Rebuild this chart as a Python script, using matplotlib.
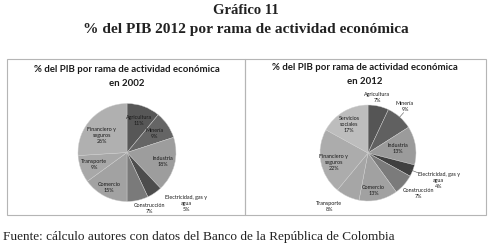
import matplotlib
matplotlib.use('Agg')
import matplotlib.pyplot as plt   # graficas
import numpy as np
from matplotlib.patches import Rectangle

# Datos 2002
sect_2002 = ['Agricultura', 'Minería', 'Industria', 'Electricidad, gas y\nagua',
             'Construcción', 'Comercio', 'Transporte', 'Financiero y\nseguros']
pib_2002 = [11, 9, 18, 5, 7, 15, 9, 26]

# Datos 2012
sect_2012 = ['Agricultura', 'Minería', 'Industria', 'Electricidad, gas y\nagua',
             'Construcción', 'Comercio', 'Transporte', 'Financiero y\nseguros',
             'Servicios\nsociales']
pib_2012 = [7, 9, 13, 4, 7, 13, 8, 22, 17]

W, H = 492, 244
fig = plt.figure(figsize=(W / 100, H / 100), dpi=100)
fig.patch.set_facecolor('white')

def px(x, y):   # pixeles -> fraccion de figura
    return x / W, 1 - y / H

def pie_axes(cx, cy, r):
    ax = fig.add_axes([(cx - r) / W, 1 - (cy + r) / H, 2 * r / W, 2 * r / H])
    return ax

def dibuja_pie(ax, vals, labels, colores, dist, nudge, fs=3.9):
    wedges, _ = ax.pie(vals, colors=colores, startangle=90, counterclock=False, radius=1,
                       wedgeprops=dict(edgecolor='#d0d0d0', linewidth=0.3))
    ax.set_xlim(-1, 1)
    ax.set_ylim(-1, 1)
    ax.set_axis_off()
    for w, lab, v, d, n in zip(wedges, labels, vals, dist, nudge):
        ang = np.deg2rad((w.theta1 + w.theta2) / 2 + n)
        ax.text(d * np.cos(ang), d * np.sin(ang), f'{lab}\n{v}%', ha='center', va='center',
                fontsize=fs, family='Lato', color='#1a1a1a', linespacing=1.25)
    return wedges

# Titulos generales
fig.text(*px(246, 10), 'Gráfico 11', ha='center', va='center', fontsize=10.5,
         family='Liberation Serif', weight='bold', color='#222222')
fig.text(*px(246, 29), '% del PIB 2012 por rama de actividad económica', ha='center', va='center',
         fontsize=11.1, family='Liberation Serif', weight='bold', color='#222222')

# Marcos de los paneles
for x0, x1 in [(7, 245), (245, 486)]:
    fig.patches.append(Rectangle(px(x0, 215), (x1 - x0) / W, (215 - 59) / H, transform=fig.transFigure,
                                 facecolor='none', edgecolor='#b5b5b5', linewidth=0.8))

# Panel 2002
fig.text(*px(126.5, 70), '% del PIB por rama de actividad económica', ha='center', va='center',
         fontsize=6.9, family='Lato', weight='bold', color='#1a1a1a')
fig.text(*px(126.5, 83), 'en 2002', ha='center', va='center',
         fontsize=6.9, family='Lato', weight='bold', color='#1a1a1a')
ax1 = pie_axes(127, 152.5, 49)
col_2002 = ['#575757', '#656565', '#9d9d9d', '#4d4d4d', '#7a7a7a', '#a2a2a2', '#a8a8a8', '#b0b0b0']
dist_2002 = [0.70, 0.68, 0.75, 1.60, 1.24, 0.81, 0.71, 0.62]
nudge_2002 = [0, 0, 0, 15, 9, 0, 0, 9]
dibuja_pie(ax1, pib_2002, sect_2002, col_2002, dist_2002, nudge_2002)

# Panel 2012
fig.text(*px(365, 68), '% del PIB por rama de actividad económica', ha='center', va='center',
         fontsize=6.9, family='Lato', weight='bold', color='#1a1a1a')
fig.text(*px(365, 82), 'en 2012', ha='center', va='center',
         fontsize=6.9, family='Lato', weight='bold', color='#1a1a1a')
ax2 = pie_axes(368, 153, 48)
col_2012 = ['#555555', '#606060', '#9b9b9b', '#404040', '#7b7b7b', '#a1a1a1', '#a6a6a6', '#acacac', '#bdbdbd']
dist_2012 = [1.17, 1.24, 0.63, 1.58, 1.35, 0.79, 1.37, 0.74, 0.71]
nudge_2012 = [3, 3, 0, 0, 3, -4, -11, 5, 3]
w2 = dibuja_pie(ax2, pib_2012, sect_2012, col_2012, dist_2012, nudge_2012)

# lineas guia
for i, (r0, r1) in [(1, (1.0, 1.12)), (3, (0.95, 1.12))]:
    a = np.deg2rad((w2[i].theta1 + w2[i].theta2) / 2)
    ax2.plot([r0 * np.cos(a), r1 * np.cos(a)], [r0 * np.sin(a), r1 * np.sin(a)],
             color='#555555', linewidth=0.4, clip_on=False)

# Fuente
fig.text(*px(3, 237), 'Fuente: cálculo autores con datos del Banco de la República de Colombia',
         ha='left', va='center', fontsize=9.5, family='Liberation Serif', color='#222222')

fig.savefig('out.png', dpi=100)
